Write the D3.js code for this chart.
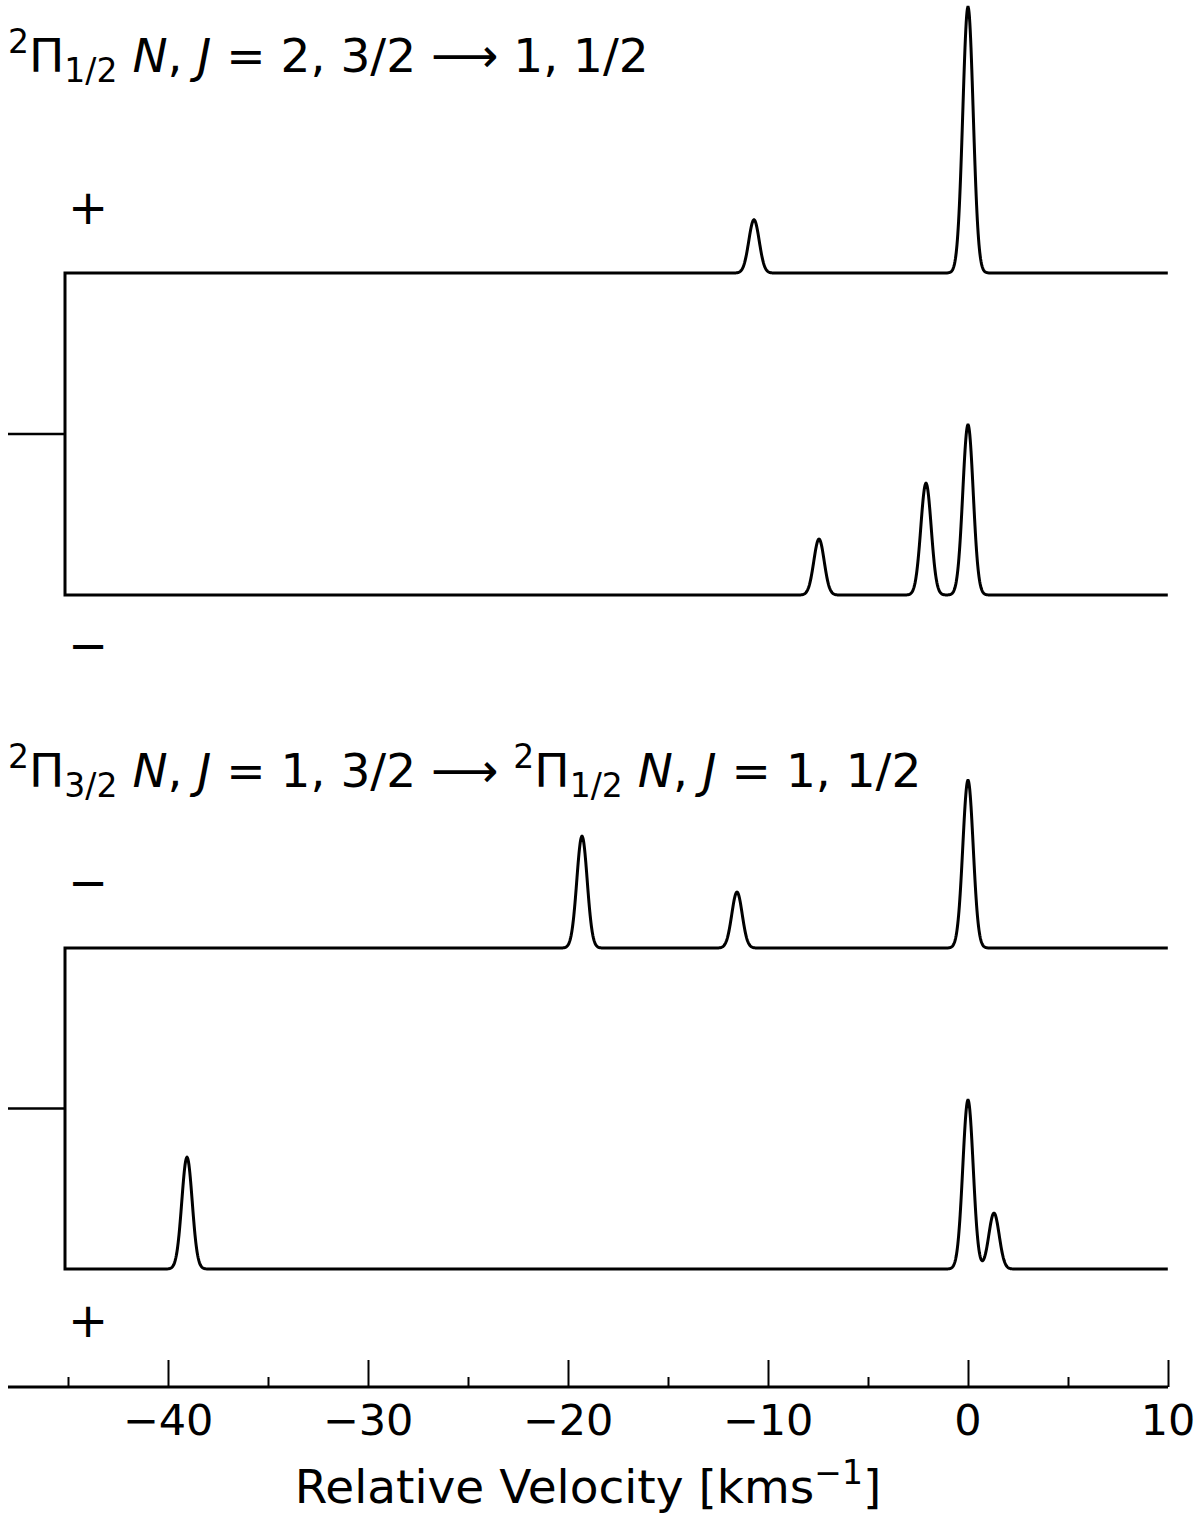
<!DOCTYPE html>
<html><head><meta charset="utf-8">
<script src="https://cdn.jsdelivr.net/npm/d3@7"></script>
<style>body{margin:0;background:#fff}svg text{font-family:"DejaVu Sans";fill:#000}</style>
</head><body><svg id="c" width="1200" height="1518"></svg>
<script>
// ---- data ----
const xDomain = [-48, 10];
const xMajorTicks = [-40, -30, -20, -10, 0, 10];
const xMinorTicks = [-45, -35, -25, -15, -5, 5];
const vStart = -45.15, vEnd = 10;
const lineSigma = 0.26;
// panel A (upper pair): 2Pi1/2 N,J = 2,3/2 -> 1,1/2
const aPlusCenters  = [-10.7, 0];
const aPlusHeights  = [0.20, 1.00];
const aMinusCenters = [-7.45, -2.1, 0];
const aMinusHeights = [0.21, 0.42, 0.64];
// panel B (lower pair): 2Pi3/2 -> 2Pi1/2
const bMinusCenters = [-19.3, -11.55, 0];
const bMinusHeights = [0.42, 0.21, 0.63];
const bPlusCenters  = [-39.05, 0, 1.3];
const bPlusHeights  = [0.42, 0.635, 0.21];
const axisLabel = "Relative Velocity [kms";

const svg = d3.select("#c");
const x = d3.scaleLinear().domain(xDomain).range([8, 1168]);
const unitPx = 266;
function yScale(base){ return d3.scaleLinear().domain([0,1]).range([base, base-unitPx]); }
function profile(centers, heights){
  const grid = d3.range(vStart, vEnd + 1e-9, 0.02);
  return grid.map(v => [v, d3.sum(centers, (c,i)=> heights[i]*Math.exp(-((v-c)**2)/(2*lineSigma*lineSigma)))]);
}
function pair(topC, topH, botC, botH, baseTop, baseBot){
  const yt = yScale(baseTop), yb = yScale(baseBot);
  const top = profile(topC, topH).reverse().map(d=>[x(d[0]), yt(d[1])]);
  const bot = profile(botC, botH).map(d=>[x(d[0]), yb(d[1])]);
  const pts = top.concat(bot);
  svg.append("path").attr("d", d3.line()(pts)).attr("fill","none")
    .attr("stroke","#000").attr("stroke-width",3).attr("stroke-linejoin","miter");
  const mid = (baseTop+baseBot)/2;
  svg.append("line").attr("x1",x(xDomain[0])).attr("x2",x(vStart)).attr("y1",mid).attr("y2",mid)
    .attr("stroke","#000").attr("stroke-width",2.5);
}
pair(aPlusCenters, aPlusHeights, aMinusCenters, aMinusHeights, 273, 595);
pair(bMinusCenters, bMinusHeights, bPlusCenters, bPlusHeights, 948, 1269);

// parity labels
const signs = [["+",207],["\u2212",645],["\u2212",882],["+",1320]];
signs.forEach(s=>{
  svg.append("text").attr("x",88).attr("y",s[1]).attr("text-anchor","middle")
    .attr("dominant-baseline","central").attr("font-size",48).text(s[0]);
});

// titles
function title(yb, parts){
  const t = svg.append("text").attr("x",8).attr("y",yb).attr("font-size",47);
  let cur = 0;
  parts.forEach(p=>{
    const off = p.off||0;
    const ts = t.append("tspan").attr("dy", off-cur).text(p.t);
    cur = off;
    if(p.s) ts.attr("font-size", p.s);
    if(p.i) ts.attr("font-style","italic");
  });
}
title(72, [
  {t:"2", s:33, off:-19},{t:"\u03A0"},{t:"1/2", s:33, off:10},{t:" "},
  {t:"N", i:1},{t:", "},{t:"J", i:1},{t:" = 2, 3/2 \u27F6 1, 1/2"}
]);
title(787, [
  {t:"2", s:33, off:-19},{t:"\u03A0"},{t:"3/2", s:33, off:10},{t:" "},
  {t:"N", i:1},{t:", "},{t:"J", i:1},{t:" = 1, 3/2 \u27F6 "},
  {t:"2", s:33, off:-19},{t:"\u03A0"},{t:"1/2", s:33, off:10},{t:" "},
  {t:"N", i:1},{t:", "},{t:"J", i:1},{t:" = 1, 1/2"}
]);

// x axis
const axY = 1387;
svg.append("line").attr("x1",x(xDomain[0])).attr("x2",x(xDomain[1])).attr("y1",axY).attr("y2",axY)
  .attr("stroke","#000").attr("stroke-width",3);
const g = svg.append("g").attr("transform",`translate(0,${axY})`)
  .call(d3.axisTop(x).tickValues(xMajorTicks).tickSize(27).tickFormat(""));
g.select(".domain").remove();
g.selectAll("line").attr("stroke","#000").attr("stroke-width",2);
const gm = svg.append("g").attr("transform",`translate(0,${axY})`)
  .call(d3.axisTop(x).tickValues(xMinorTicks).tickSize(10).tickFormat(""));
gm.select(".domain").remove();
gm.selectAll("line").attr("stroke","#000").attr("stroke-width",2);
xMajorTicks.forEach(v=>{
  svg.append("text").attr("x",x(v)).attr("y",1435).attr("text-anchor","middle")
    .attr("font-size",43).text(v<0 ? "\u2212"+Math.abs(v) : String(v));
});
const lab = svg.append("text").attr("x",588).attr("y",1503).attr("text-anchor","middle").attr("font-size",47);
lab.append("tspan").text(axisLabel);
lab.append("tspan").attr("dy",-19).attr("font-size",33).text("\u22121");
lab.append("tspan").attr("dy",19).text("]");
</script></body></html>
